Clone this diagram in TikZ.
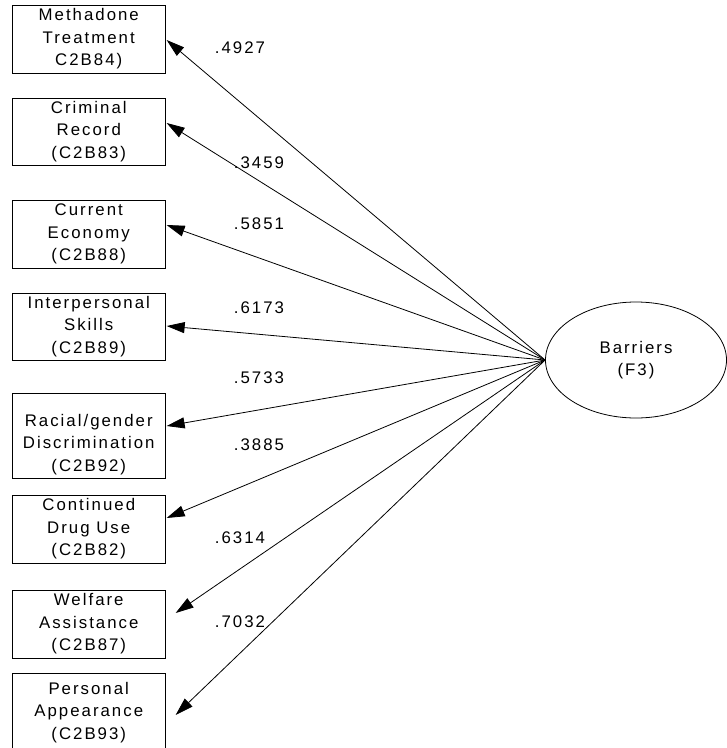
\documentclass[tikz,border=0pt]{standalone}
\usepackage{fontspec}
\setmainfont{Liberation Sans}[LetterSpace=12]
\usetikzlibrary{arrows.meta,shapes.geometric}
\begin{document}
\begin{tikzpicture}[x=1pt,y=-1pt,
  every node/.style={font=\fontsize{16.8}{22.5}\selectfont},
  item/.style={draw, line width=0.8pt, minimum width=153pt, minimum height=68pt,
    inner sep=0pt, align=center},
  factor/.style={draw, ellipse, line width=0.8pt, minimum width=181pt,
    minimum height=116pt, inner sep=0pt, align=center},
  loading/.style={line width=0.8pt, -{Triangle[length=18pt,width=11pt]}},
  coef/.style={inner sep=0pt}
]
\useasboundingbox (0,0) rectangle (727,748);
\clip (0,0) rectangle (727,748);

% observed indicators
\node[item] (b1) at (88.75,39) {Methadone\\Treatment\\C2B84)};
\node[item, minimum height=67pt] (b2) at (88.75,131.5) {Criminal\\Record\\(C2B83)};
\node[item] (b3) at (88.75,234) {Current\\Economy\\(C2B88)};
\node[item, minimum height=67pt] (b4) at (88.75,326.5) {Interpersonal\\Skills\\(C2B89)};
\node[item, minimum height=85pt] (b5) at (88.75,435.5)
  {\rule{0pt}{30pt}Racial/gender\\Discrimination\\(C2B92)};
\node[item] (b6) at (88.75,529) {Continued\\Drug Use\\(C2B82)};
\node[item] (b7) at (88.75,624) {Welfare\\Assistance\\(C2B87)};
\node[item, minimum height=79pt] (b8) at (88.75,712.5) {Personal\\Appearance\\(C2B93)};

% latent factor
\node[factor] (f3) at (636,360) {Barriers\\(F3)};

% loadings
\draw[loading] (f3.west) -- ([shift={(1,1)}]b1.east);
\draw[loading] (f3.west) -- ([shift={(1,-8.5)}]b2.east);
\draw[loading] (f3.west) -- ([shift={(1,-9)}]b3.east);
\draw[loading] (f3.west) -- ([shift={(1,-0.5)}]b4.east);
\draw[loading] (f3.west) -- ([shift={(1,-9.5)}]b5.east);
\draw[loading] (f3.west) -- ([shift={(1,-11)}]b6.east);
\draw[loading] (f3.west) -- ([shift={(10,-11)}]b7.east);
\draw[loading] (f3.west) -- ([shift={(10,2.5)}]b8.east);

% loading coefficients
\node[coef] (l1) at (240,48) {.4927};
\node[coef] (l2) at (259,163) {.3459};
\node[coef] (l3) at (259,224) {.5851};
\node[coef] (l4) at (259,308) {.6173};
\node[coef] (l5) at (259,378) {.5733};
\node[coef] (l6) at (259,445) {.3885};
\node[coef] (l7) at (240,538) {.6314};
\node[coef] (l8) at (240,622) {.7032};
\end{tikzpicture}
\end{document}
